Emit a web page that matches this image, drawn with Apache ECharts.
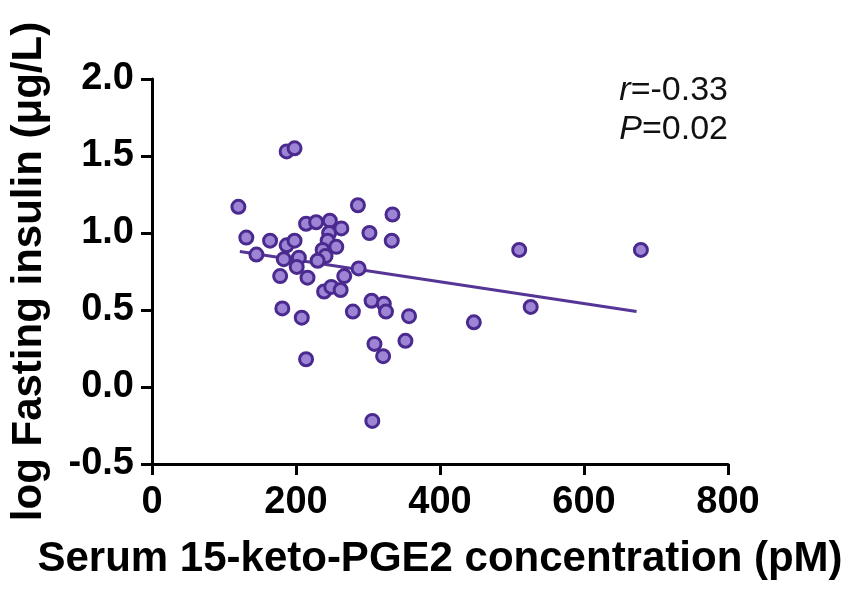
<!DOCTYPE html>
<html>
<head>
<meta charset="utf-8">
<script src="https://cdn.jsdelivr.net/npm/echarts@6/dist/echarts.min.js"></script>
<style>
  html, body { margin: 0; padding: 0; background: #fff; }
  #main { width: 855px; height: 589px; }
</style>
</head>
<body>
<div id="main"></div>
<script>
// serum 15-keto-PGE2 (pM) vs log fasting insulin, one entry per subject
var ketoPGE2 = [120, 187, 198, 131, 164, 145, 187, 198, 183, 204, 201, 178, 216, 214, 228, 247, 246, 263, 244, 237, 256, 241, 230, 286, 302, 334, 333, 287, 267, 239, 249, 262, 181, 208, 279, 305, 322, 325, 357, 309, 321, 352, 214, 306, 510, 679, 526, 447];
var logInsulin = [1.17, 1.53, 1.55, 0.97, 0.95, 0.86, 0.92, 0.95, 0.83, 0.84, 0.78, 0.72, 0.71, 1.06, 1.07, 1.08, 1.00, 1.03, 0.95, 0.89, 0.91, 0.85, 0.82, 1.18, 1.00, 1.12, 0.95, 0.77, 0.72, 0.62, 0.65, 0.63, 0.51, 0.45, 0.49, 0.56, 0.54, 0.49, 0.46, 0.28, 0.20, 0.30, 0.18, -0.22, 0.89, 0.89, 0.52, 0.42];

// regression line end points
var fitX = [122, 673];
var fitY = [0.88, 0.49];

var xTicks = [0, 200, 400, 600, 800];
var yTicks = [-0.5, 0.0, 0.5, 1.0, 1.5, 2.0];

var statR = '-0.33';
var statP = '0.02';

var font = "'Liberation Sans', Arial, sans-serif";

var points = ketoPGE2.map(function (x, i) { return [x, logInsulin[i]]; });
var fitLine = fitX.map(function (x, i) { return [x, fitY[i]]; });

var myChart = echarts.init(document.getElementById('main'));
var option = {
  animation: false,
  backgroundColor: '#fff',
  grid: { left: 152, right: 127, top: 79, bottom: 125, outerBoundsMode: 'none' },
  xAxis: {
    type: 'value',
    min: xTicks[0],
    max: xTicks[xTicks.length - 1],
    interval: 200,
    name: 'Serum 15-keto-PGE2 concentration (pM)',
    nameLocation: 'middle',
    nameGap: 74,
    nameTextStyle: { fontFamily: font, fontSize: 42, fontWeight: 'bold', color: '#000' },
    axisLine: { onZero: false, lineStyle: { color: '#000', width: 3 } },
    axisTick: { length: 11, lineStyle: { color: '#000', width: 3 } },
    axisLabel: { margin: 20, fontFamily: font, fontSize: 38, fontWeight: 'bold', color: '#000' },
    splitLine: { show: false }
  },
  yAxis: {
    type: 'value',
    min: yTicks[0],
    max: yTicks[yTicks.length - 1],
    interval: 0.5,
    name: 'log Fasting insulin (\u03bcg/L)',
    nameLocation: 'middle',
    nameGap: 102,
    nameTextStyle: { fontFamily: font, fontSize: 42, fontWeight: 'bold', color: '#000' },
    axisLine: { onZero: false, lineStyle: { color: '#000', width: 3 } },
    axisTick: { length: 11, lineStyle: { color: '#000', width: 3 } },
    axisLabel: {
      margin: 18, fontFamily: font, fontSize: 38, fontWeight: 'bold', color: '#000',
      formatter: function (v) { return v.toFixed(1); }
    },
    splitLine: { show: false }
  },
  graphic: [
    {
      type: 'text', right: 127, top: 74,
      style: {
        text: '{i|r}=' + statR,
        font: '34px ' + font, fill: '#111',
        rich: { i: { fontStyle: 'italic', fontSize: 34, fontFamily: font } }
      }
    },
    {
      type: 'text', right: 127, top: 113,
      style: {
        text: '{i|P}=' + statP,
        font: '34px ' + font, fill: '#111',
        rich: { i: { fontStyle: 'italic', fontSize: 34, fontFamily: font } }
      }
    }
  ],
  series: [
    {
      type: 'line',
      data: fitLine,
      symbol: 'none',
      lineStyle: { color: '#553596', width: 3 },
      z: 2
    },
    {
      type: 'scatter',
      data: points,
      symbol: 'circle',
      symbolSize: 13,
      itemStyle: { color: '#9d84d4', borderColor: '#4a2a8e', borderWidth: 3, opacity: 1 },
      z: 3
    }
  ]
};
option && myChart.setOption(option);
</script>
</body>
</html>
